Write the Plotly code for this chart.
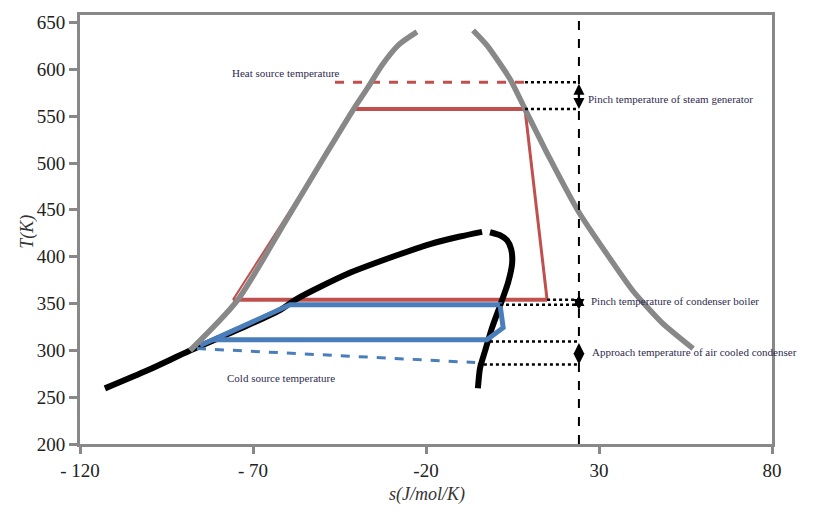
import plotly.graph_objects as go

# Saturation dome of water (grey), left and right branches
dome_l_s = [-88.2, -74.6, -60.6, -49.0, -40.9, -36.9, -32.6, -27.8, -22.6]
dome_l_T = [299.8, 352.9, 437.8, 508.9, 557.7, 580.0, 605.0, 626.5, 640.0]
dome_r_s = [-6.4, -2.4, 4.3, 8.6, 15.8, 24.2, 31.7, 39.8, 48.2, 57.2]
dome_r_T = [641.6, 625.7, 589.6, 557.7, 504.7, 447.3, 405.9, 363.5, 329.5, 301.9]

# Saturation dome of the bottoming working fluid (black)
wf_l_s = [-112.8, -100.3, -88.2, -73.8, -62.2, -57.3, -42.8, -28.4, -18.8, -10.2, -3.8]
wf_l_T = [259.4, 279.0, 299.8, 323.0, 343.0, 355.0, 381.5, 401.5, 413.5, 421.5, 426.5]
wf_r_s = [-1.5, 1.4, 3.4, 4.6, 4.9, 3.7, 1.4, -0.9, -2.9, -4.4, -5.0]
wf_r_T = [426.1, 422.9, 417.6, 408.1, 393.2, 372.0, 347.6, 324.2, 299.8, 280.7, 259.4]

# Topping (steam) cycle, red
steam_pump_s = [-75.8, -40.5]
steam_pump_T = [353.9, 557.7]
steam_s = [-40.5, 8.6, 15.0, -75.8]
steam_T = [557.7, 557.7, 353.9, 353.9]
heat_src_s = [-46.3, 8.6]
heat_src_T = [586.3, 586.3]

# Bottoming cycle, blue
bot_s = [-85.3, -59.3, 1.4, 2.3, -2.4, -81.8]
bot_T = [305.1, 348.6, 348.6, 324.2, 311.4, 311.4]
cold_src_s = [-86.2, -5.8]
cold_src_T = [301.9, 287.0]

# Reference line and temperature-difference levels
s_ref = 24.2
guide_levels = [(8.6, 586.3), (8.6, 557.7), (15.0, 353.9), (1.4, 348.6), (-1.5, 309.3), (-5.0, 285.0)]

x_ticks = [-120, -70, -20, 30, 80]
x_tick_text = ["- 120", "- 70", "-20", "30", "80"]
y_ticks = [200, 250, 300, 350, 400, 450, 500, 550, 600, 650]

RED = "#c0504d"
BLUE = "#4a7ebb"
GREY = "#888888"
TXT = "#2f2a4f"
SERIF = "Liberation Serif"

fig = go.Figure()


def line(s, T, color, width, dash="solid", smooth=None):
    ln = dict(color=color, width=width, dash=dash)
    if smooth:
        ln.update(shape="spline", smoothing=smooth)
    fig.add_trace(go.Scatter(x=s, y=T, mode="lines", showlegend=False, hoverinfo="skip", line=ln))


# steam cycle
line(steam_pump_s, steam_pump_T, RED, 2)
line(steam_s[:2], steam_T[:2], RED, 4)
line(steam_s[1:3], steam_T[1:3], RED, 3)
line(steam_s[2:], steam_T[2:], RED, 4)
line(heat_src_s, heat_src_T, RED, 3, "dash")

# working fluid dome
line(wf_l_s, wf_l_T, "#000000", 6, smooth=0.7)
line(wf_r_s, wf_r_T, "#000000", 6, smooth=0.6)

# bottoming cycle
line(bot_s, bot_T, BLUE, 5)
line(cold_src_s, cold_src_T, BLUE, 3, "dash")

# water dome
line(dome_l_s, dome_l_T, GREY, 5.5, smooth=0.7)
line(dome_r_s, dome_r_T, GREY, 5.5, smooth=0.6)

# dotted guides to the reference line
for s0, T0 in guide_levels:
    line([s0, s_ref], [T0, T0], "#000000", 2.5, "dot")

# vertical reference line
line([s_ref, s_ref], [200, 658], "#000000", 2, "dash")

annotations = []


def arrow(T_a, T_b, both=True):
    annotations.append(dict(x=s_ref, y=T_b, ax=s_ref, ay=T_a, xref="x", yref="y",
                            axref="x", ayref="y", text="", showarrow=True,
                            arrowhead=2, arrowsize=1.0, arrowwidth=2.2,
                            arrowcolor="#000000",
                            arrowside="end+start" if both else "end"))


arrow(586.3, 557.7)
arrow(351.0, 359.0, both=False)
arrow(351.0, 343.0, both=False)
arrow(309.3, 285.0)


def label(s, T, text):
    annotations.append(dict(x=s, y=T, xref="x", yref="y", text=text, showarrow=False,
                            xanchor="left", yanchor="middle",
                            font=dict(family=SERIF, size=11, color=TXT)))


label(-76.6, 596.0, "Heat source temperature")
label(26.3, 568.4, "Pinch temperature of steam generator")
label(27.2, 352.9, "Pinch temperature of condenser boiler")
label(27.5, 298.7, "Approach temperature of air cooled condenser")
label(-78.1, 271.0, "Cold source temperature")

# axis titles
annotations.append(dict(x=-0.093, y=0.495, xref="paper", yref="paper", text="<i>T(K)</i>",
                        showarrow=False, textangle=-90,
                        font=dict(family=SERIF, size=18, color="#333333")))
annotations.append(dict(x=0.501, y=-0.148, xref="paper", yref="paper",
                        text="<i>s(J/mol/K)</i>", showarrow=False,
                        font=dict(family=SERIF, size=18, color="#333333")))

axis_common = dict(showline=True, linecolor=GREY, linewidth=3, mirror=True,
                   ticks="outside", tickcolor=GREY, tickwidth=3,
                   showgrid=False, zeroline=False,
                   tickfont=dict(family=SERIF, size=19, color="#222222"))

fig.update_layout(
    width=832, height=520,
    margin=dict(l=80, r=60, t=12, b=76),
    paper_bgcolor="white", plot_bgcolor="white",
    xaxis=dict(range=[-120, 80], tickvals=x_ticks, ticktext=x_tick_text, ticklen=7, **axis_common),
    yaxis=dict(range=[200, 658], tickvals=y_ticks, ticklen=8, **axis_common),
    annotations=annotations,
)

fig.write_html("out.html")
